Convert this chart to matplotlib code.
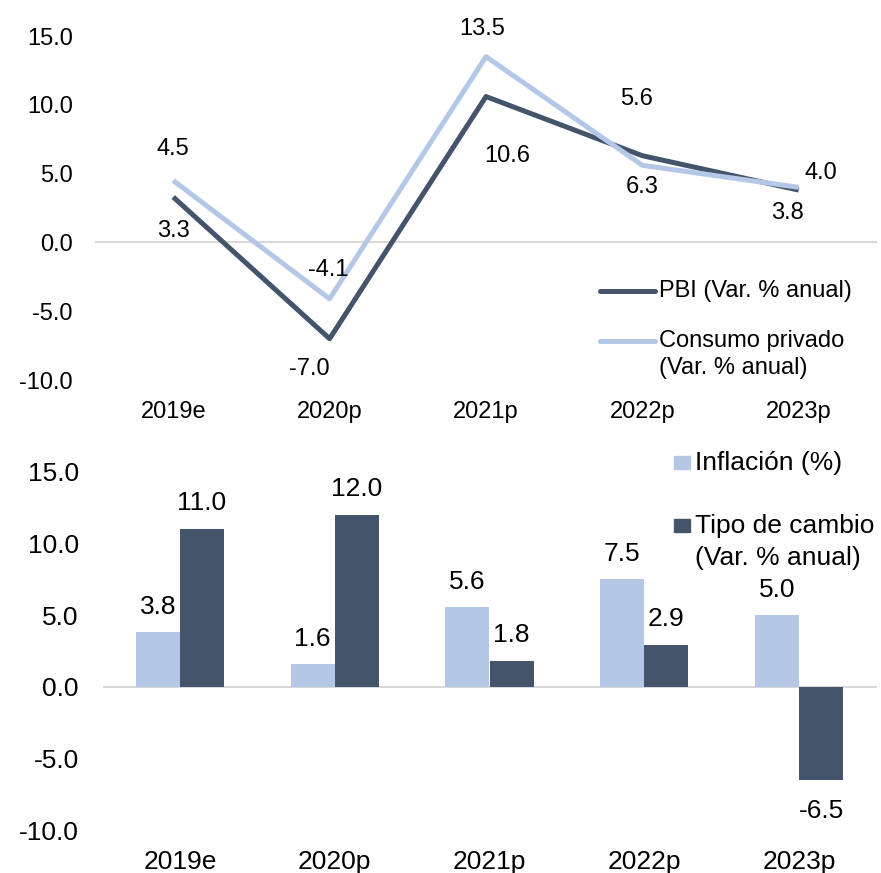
import matplotlib
matplotlib.use("Agg")
import matplotlib.pyplot as plt
from matplotlib.patches import Rectangle
from matplotlib import font_manager as fm
import numpy as np

categories = ["2019e", "2020p", "2021p", "2022p", "2023p"]
pbi = [3.3, -7.0, 10.6, 6.3, 3.8]
consumo = [4.5, -4.1, 13.5, 5.6, 4.0]
inflacion = [3.8, 1.6, 5.6, 7.5, 5.0]
tipo_cambio = [11.0, 12.0, 1.8, 2.9, -6.5]
yticks = [-10.0, -5.0, 0.0, 5.0, 10.0, 15.0]

DARK = "#44546A"
LIGHT = "#B4C7E7"
GRID = "#D9D9D9"

names = {f.name for f in fm.fontManager.ttflist}
MAIN = "Liberation Sans" if "Liberation Sans" in names else "DejaVu Sans"
TOP_FS = 17
BOT_FS = 19

W, H = 881, 873
fig = plt.figure(figsize=(W / 100, H / 100), dpi=100)

def px_axes(left, right, top, bottom):
    return fig.add_axes([left / W, 1 - bottom / H, (right - left) / W, (bottom - top) / H])

# ---------- top panel: lines ----------
ax1 = px_axes(95, 877, 36, 380)
x = np.arange(len(categories))
ax1.axhline(0, color=GRID, lw=1.5, zorder=1)
ax1.plot(x, pbi, color=DARK, lw=3.6, solid_capstyle="butt", zorder=3)
ax1.plot(x, consumo, color=LIGHT, lw=3.6, solid_capstyle="butt", zorder=4)
ax1.set_xlim(-0.5, len(categories) - 0.5)
ax1.set_ylim(-10, 15)
ax1.set_yticks(yticks)
ax1.set_yticklabels([f"{v:.1f}" for v in yticks], fontsize=TOP_FS, family=MAIN)
ax1.set_xticks(x)
ax1.set_xticklabels(categories, fontsize=TOP_FS, family=MAIN)
ax1.tick_params(axis="both", length=0)
ax1.tick_params(axis="y", pad=16)
ax1.tick_params(axis="x", pad=15)
for s in ax1.spines.values():
    s.set_visible(False)

# label offsets in pixels (dx, dy)
pbi_off = [(0, -34), (-20, -30), (21, -59), (0, -31), (-11, -23)]
con_off = [(0, 31), (-1, 29), (-4, 28), (-6, 66), (22, 14)]
for i in range(len(categories)):
    ax1.annotate(f"{pbi[i]:.1f}", (x[i], pbi[i]), xytext=pbi_off[i], textcoords="offset pixels",
                 ha="center", va="center", fontsize=TOP_FS, family=MAIN, zorder=6)
    ax1.annotate(f"{consumo[i]:.1f}", (x[i], consumo[i]), xytext=con_off[i], textcoords="offset pixels",
                 ha="center", va="center", fontsize=TOP_FS, family=MAIN, zorder=6)

# legend (manual, Excel style)
ax1.plot([0.6458, 0.716], [0.2587, 0.2587], transform=ax1.transAxes, color=DARK, lw=3.6,
         solid_capstyle="round", clip_on=False)
ax1.text(0.7212, 0.2587, "PBI (Var. % anual)", transform=ax1.transAxes, va="center", ha="left",
         fontsize=TOP_FS, family=MAIN)
ax1.plot([0.6458, 0.716], [0.1134, 0.1134], transform=ax1.transAxes, color=LIGHT, lw=3.6,
         solid_capstyle="round", clip_on=False)
ax1.text(0.7212, 0.1134, "Consumo privado", transform=ax1.transAxes, va="center", ha="left",
         fontsize=TOP_FS, family=MAIN)
ax1.text(0.7212, 0.0349, "(Var. % anual)", transform=ax1.transAxes, va="center", ha="left",
         fontsize=TOP_FS, family=MAIN)

# ---------- bottom panel: bars ----------
ax2 = px_axes(102.5, 876.5, 472, 830)
bw = 0.285
ax2.axhline(0, color=GRID, lw=1.5, zorder=1)
ax2.bar(x - bw / 2, inflacion, width=bw, color=LIGHT, zorder=2)
ax2.bar(x + bw / 2, tipo_cambio, width=bw, color=DARK, zorder=2)
ax2.set_xlim(-0.5, len(categories) - 0.5)
ax2.set_ylim(-10, 15)
ax2.set_yticks(yticks)
ax2.set_yticklabels([f"{v:.1f}" for v in yticks], fontsize=BOT_FS, family=MAIN)
ax2.set_xticks(x)
ax2.set_xticklabels(categories, fontsize=BOT_FS, family=MAIN)
ax2.tick_params(axis="both", length=0)
ax2.tick_params(axis="y", pad=17)
ax2.tick_params(axis="x", pad=14.5)
for s in ax2.spines.values():
    s.set_visible(False)

for i in range(len(categories)):
    ax2.annotate(f"{inflacion[i]:.1f}", (x[i] - bw / 2, inflacion[i]), xytext=(0, 25),
                 textcoords="offset pixels", ha="center", va="center", fontsize=BOT_FS, family=MAIN)
    dy = 26 if tipo_cambio[i] >= 0 else -31
    ax2.annotate(f"{tipo_cambio[i]:.1f}", (x[i] + bw / 2, tipo_cambio[i]), xytext=(0, dy),
                 textcoords="offset pixels", ha="center", va="center", fontsize=BOT_FS, family=MAIN)

# legend (manual)
for yc, col in [(1.0251, LIGHT), (0.8492, DARK)]:
    ax2.add_patch(Rectangle((0.7384, yc - 0.0181), 0.0207, 0.0363, transform=ax2.transAxes,
                            color=col, clip_on=False))
ax2.text(0.7655, 1.0251, "Inflación (%)", transform=ax2.transAxes, va="center", ha="left",
         fontsize=BOT_FS, family=MAIN)
ax2.text(0.7655, 0.8492, "Tipo de cambio", transform=ax2.transAxes, va="center", ha="left",
         fontsize=BOT_FS, family=MAIN)
ax2.text(0.7655, 0.7598, "(Var. % anual)", transform=ax2.transAxes, va="center", ha="left",
         fontsize=BOT_FS, family=MAIN)

fig.savefig("out.png", dpi=100)
